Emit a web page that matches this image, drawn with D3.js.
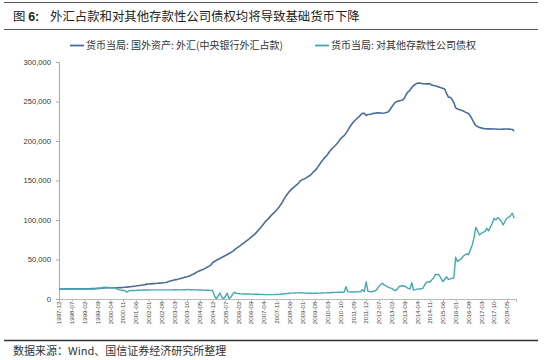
<!DOCTYPE html>
<html><head><meta charset="utf-8">
<script src="https://cdn.jsdelivr.net/npm/d3@7"></script>
<style>
html,body{margin:0;padding:0;background:#fff;}
svg{display:block;}
</style>
</head><body>
<svg id="c" width="550" height="360"></svg>
<script>
// ---------- data (亿元), monthly 1997-12 .. 2018-09 ----------
const startMonth = "1997-12";
const seriesNames = ["货币当局: 国外资产: 外汇(中央银行外汇占款)", "货币当局: 对其他存款性公司债权"];
const fxValues = [
  12650,
  12700,12720,12740,12760,12780,12800,12790,12800,12820,12790,12780,12730,
  12800,12850,12900,12950,13000,13100,13200,13300,13400,13500,13700,14060,
  14100,14150,14150,14200,14250,14250,14300,14300,14350,14400,14500,14810,
  15000,15300,15500,15800,16100,16400,16800,17100,17400,17700,18200,18850,
  19000,19200,19400,19500,19700,19900,20100,20300,20600,20900,21300,22110,
  22800,23400,24000,24500,25000,25600,26300,27000,27700,28200,28800,29840,
  31000,32000,33500,34700,35800,36800,37700,38800,40200,41300,42800,45940,
  47500,48800,50000,51200,52500,53800,55000,56300,57600,58900,60300,62140,
  64000,65600,67200,69000,70800,72500,74200,76000,77900,79800,81800,84360,
  87000,89400,92300,95300,98300,100500,103000,105500,108000,110000,112600,115170,
  118500,121800,126000,130000,133000,136000,138500,140700,142500,144500,146500,149620,
  150800,151800,153000,154600,156000,157800,160500,162500,165000,168500,171800,175150,
  178000,180500,183200,186700,189500,191800,194000,196500,199500,202800,205000,206770,
  210000,213500,217500,220800,224000,226200,228500,230500,233000,235000,235200,232390,
  233500,233600,234300,235000,235200,235600,235700,235500,235200,235400,236000,236670,
  239500,243000,246300,249000,250000,250800,251200,252000,254400,259300,262300,264270,
  267800,270000,271900,273200,273500,273000,272500,272500,272300,272400,272300,270680,
  270300,270000,269000,268200,267300,266600,265800,260300,255500,255400,252800,248540,
  242000,240500,239800,239000,238300,236900,235800,234800,231700,227600,223100,219430,
  218300,217000,216600,216000,215500,215300,215300,215300,215100,215100,215200,214790,
  214900,214900,215000,215100,215100,215000,214800,214600,212600
];
const claimValues = [
  13000,
  12900,12850,12800,12800,12750,12800,12850,12800,12750,12800,12750,12700,
  12700,12650,12600,12600,12550,12600,12700,12900,13200,13600,14000,14600,
  14800,14600,14500,14300,14200,14000,13800,12600,11500,11000,10800,10900,
  8500,10200,10600,10700,10800,10900,11000,11100,11200,11300,11300,11400,
  11400,11500,11500,11600,11600,11500,11500,11600,11600,11500,11500,11600,
  11500,11600,11700,11800,11700,11600,11600,11700,11800,12000,11900,11800,
  11700,11600,11500,11400,11400,11300,11200,11100,11000,11000,10900,10800,
  4000,200,3800,7500,2500,200,3500,7300,300,2500,6000,8500,
  7200,6800,6600,6500,6400,6400,6300,6300,6200,6200,6100,6100,
  6000,5900,5800,5700,5600,5600,5500,5500,5600,5600,5700,5800,
  6000,6300,6600,6800,7000,7200,7400,7500,7600,7700,7800,8000,
  7800,7600,7400,7300,7200,7200,7100,7200,7300,7400,7500,7600,
  7700,7800,7900,8000,8200,8300,8400,8400,8500,8500,8600,8800,
  15600,9500,9000,8900,8800,8900,9000,9100,9300,11800,9400,21900,
  9800,9300,9200,9800,10500,12500,16000,18500,19900,17500,16500,15000,
  14000,13500,11500,10500,12500,15500,16500,16800,16200,15000,13500,13000,
  20600,11400,11800,12500,12700,12900,13500,17700,21000,21900,21500,24500,
  27000,31200,31000,30400,26000,21900,25000,28200,24900,25500,26200,26600,
  52800,47200,49400,50500,54000,55700,57000,56000,62000,68000,77000,90800,
  86000,81000,83000,84500,85200,89500,86100,91000,95800,102200,100000,102900,
  101500,98000,93700,98500,102200,103500,105500,108500,102200
];
const xTickLabels = ["1997-12","1998-07","1999-02","1999-09","2000-04","2000-11","2001-06","2002-01",
  "2002-08","2003-03","2003-10","2004-05","2004-12","2005-07","2006-02","2006-09","2007-04","2007-11",
  "2008-06","2009-01","2009-08","2010-03","2010-10","2011-05","2011-12","2012-07","2013-02","2013-09",
  "2014-04","2014-11","2015-06","2016-01","2016-08","2017-03","2017-10","2018-05"];
const yTickValues = [0,50000,100000,150000,200000,250000,300000];
const titleText = "外汇占款和对其他存款性公司债权均将导致基础货币下降";
const sourceText = "数据来源：Wind、国信证券经济研究所整理";

// ---------- categories ----------
const fmtM = d3.timeFormat("%Y-%m");
const t0 = d3.timeParse("%Y-%m")(startMonth);
const months = fxValues.map((_, i) => fmtM(d3.timeMonth.offset(t0, i)));

const svg = d3.select("#c");
const cjk = "'Noto Sans CJK SC','Noto Sans',sans-serif";
const COL_FX = "#4b6d96", COL_CL = "#45a9ae";

const x = d3.scaleLinear().domain([0, 250]).range([59, 516]);
const y = d3.scaleLinear().domain([0, 300000]).range([299, 62]);

// title block
svg.append("line").attr("x1",4).attr("x2",538).attr("y1",2.5).attr("y2",2.5).attr("stroke","#555").attr("stroke-width",1.2);
svg.append("line").attr("x1",4).attr("x2",538).attr("y1",29.5).attr("y2",29.5).attr("stroke","#555").attr("stroke-width",1.2);
const tt = svg.append("text").attr("x",13).attr("y",21).attr("font-family",cjk).attr("font-size",12.4).attr("fill","#222");
tt.append("tspan").text("图 ");
tt.append("tspan").attr("font-weight","bold").attr("font-family","'Liberation Sans',Arial,sans-serif").text("6: ");
tt.append("tspan").attr("x",50).text(titleText);

// legend
const leg = [{x:70, c:COL_FX, t:seriesNames[0]},{x:315, c:COL_CL, t:seriesNames[1]}];
leg.forEach(l=>{
  svg.append("line").attr("x1",l.x).attr("x2",l.x+14).attr("y1",45.5).attr("y2",45.5).attr("stroke",l.c).attr("stroke-width",1.8);
  svg.append("text").attr("x",l.x+16).attr("y",49.3).attr("font-family",cjk).attr("font-size",10).attr("fill","#333").text(l.t);
});

// y axis
const yAxis = d3.axisLeft(y).tickValues(yTickValues).tickSize(3).tickPadding(5).tickFormat(d3.format(","));
const gy = svg.append("g").attr("transform","translate(59,0)").call(yAxis);
gy.select(".domain").attr("stroke","#aaa");
gy.selectAll(".tick line").attr("stroke","#aaa");
gy.selectAll("text").attr("font-family","'Liberation Sans',Arial,sans-serif").attr("font-size",7.6).attr("fill","#333");

// x axis
const tickIdx = xTickLabels.map(l => months.indexOf(l));
const xAxis = d3.axisBottom(x).tickValues(tickIdx).tickSize(3).tickFormat(i => months[i]);
const gx = svg.append("g").attr("transform","translate(0,299)").call(xAxis);
gx.select(".domain").attr("stroke","#bbb");
gx.selectAll(".tick line").attr("stroke","#bbb");
gx.selectAll("text").attr("font-family","'Liberation Sans',Arial,sans-serif").attr("font-size",6.2).attr("fill","#444")
  .attr("transform","rotate(-90)").attr("text-anchor","end").attr("dx","-2.5").attr("dy","-0.1em").attr("y",0).attr("x",0)
  .style("dominant-baseline","central");

// lines
const line = d3.line().x((d,i)=>x(i)).y(d=>y(d));
svg.append("path").datum(fxValues).attr("d",line).attr("fill","none").attr("stroke",COL_FX).attr("stroke-width",1.6).attr("stroke-linejoin","round");
svg.append("path").datum(claimValues).attr("d",line).attr("fill","none").attr("stroke",COL_CL).attr("stroke-width",1.4).attr("stroke-linejoin","round");

// footer
svg.append("line").attr("x1",4).attr("x2",538).attr("y1",340.5).attr("y2",340.5).attr("stroke","#333").attr("stroke-width",1.4);
svg.append("text").attr("x",13).attr("y",355).attr("font-family",cjk).attr("font-size",11).attr("fill","#333").text(sourceText);
</script>
</body></html>
